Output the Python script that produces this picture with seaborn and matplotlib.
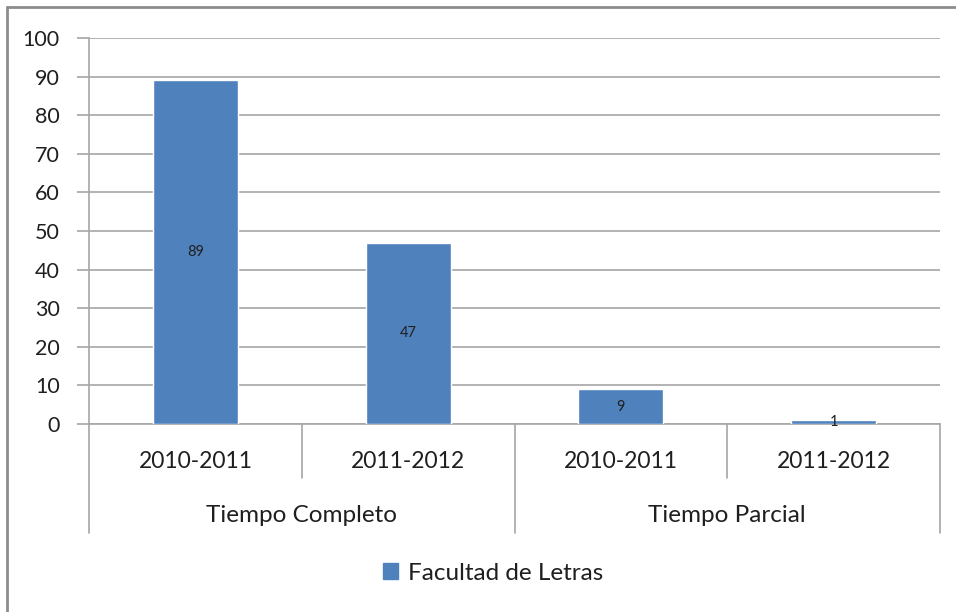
import pandas as pd
import matplotlib.pyplot as plt
import seaborn as sns
from matplotlib.lines import Line2D
from matplotlib.patches import Patch

# datos
grupos = ["Tiempo Completo", "Tiempo Completo", "Tiempo Parcial", "Tiempo Parcial"]
periodos = ["2010-2011", "2011-2012", "2010-2011", "2011-2012"]
valores = [89, 47, 9, 1]
serie = "Facultad de Letras"

df = pd.DataFrame({"grupo": grupos, "periodo": periodos, "valor": valores})
df["cat"] = df["grupo"] + "|" + df["periodo"]

sns.set_style("white")
plt.rcParams["font.family"] = ["Lato", "DejaVu Sans"]

color_barra = "#4F81BD"
gris = "#A6A6A6"
texto = "#1F1F1F"

fig = plt.figure(figsize=(9.56, 6.12), dpi=100)
ax = fig.add_axes([89 / 956, 188 / 612, 851 / 956, 386 / 612])

sns.barplot(data=df, x="cat", y="valor", color=color_barra, width=0.4,
            saturation=1, ax=ax, zorder=3)

ax.set_ylim(0, 100)
ax.set_xlim(-0.5, 3.5)
ax.set_yticks(range(0, 101, 10))
ax.set_xticks([])
ax.set_xlabel("")
ax.set_ylabel("")
ax.yaxis.grid(True, color=gris, linewidth=1.2, zorder=0)
ax.tick_params(axis="y", length=9, width=1.2, color=gris, pad=12,
               labelsize=15.5, labelcolor=texto, left=True)
for s in ["top", "right"]:
    ax.spines[s].set_visible(False)
for s in ["left", "bottom"]:
    ax.spines[s].set_color(gris)
    ax.spines[s].set_linewidth(1.2)

# etiquetas de datos
for i, v in enumerate(valores):
    ax.text(i, v / 2, str(v), ha="center", va="center", fontsize=10.5, color=texto, zorder=4)

# eje de categorias en dos niveles
tr = ax.get_xaxis_transform()
for i, p in enumerate(periodos):
    ax.text(i, -0.096, p, transform=tr, ha="center", va="center", fontsize=16.5, color=texto)
nombres = list(dict.fromkeys(grupos))
for j, g in enumerate(nombres):
    idx = [i for i, x in enumerate(grupos) if x == g]
    ax.text(sum(idx) / len(idx), -0.236, g, transform=tr, ha="center", va="center",
            fontsize=17.5, color=texto)
for k in range(len(valores) + 1):
    x = k - 0.5
    borde = k == 0 or k == len(valores) or grupos[k] != grupos[k - 1]
    y1 = -0.282 if borde else -0.14
    ax.add_line(Line2D([x, x], [0, y1], transform=tr, color=gris, linewidth=1.2,
                       clip_on=False))

# leyenda
fig.legend(handles=[Patch(color=color_barra, label=serie)], loc="center",
           bbox_to_anchor=(493 / 956, 1 - 573 / 612), frameon=False, fontsize=17.5,
           handlelength=0.6, handleheight=0.6, handletextpad=0.4, labelcolor=texto)

# borde exterior
fig.add_artist(Line2D([7 / 956, 1], [1 - 7 / 612, 1 - 7 / 612], color="#8C8C8C", linewidth=2))
fig.add_artist(Line2D([7 / 956, 7 / 956], [0, 1 - 7 / 612], color="#8C8C8C", linewidth=2))

fig.savefig("out.png", dpi=100)
